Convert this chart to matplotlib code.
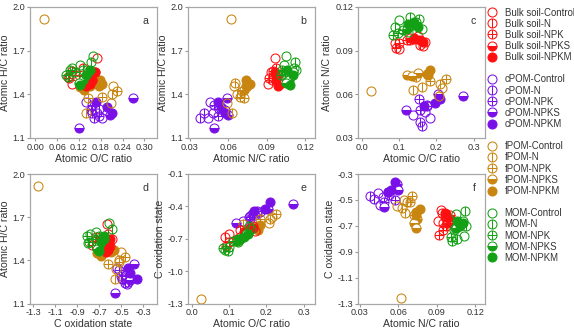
import matplotlib.pyplot as plt
from matplotlib.path import Path
from matplotlib.lines import Line2D
from matplotlib.ticker import FormatStrFormatter

plt.rcParams['font.family'] = ['Liberation Sans', 'DejaVu Sans']
plt.rcParams['axes.unicode_minus'] = False

FRACTIONS = ['Bulk soil', 'cPOM', 'fPOM', 'MOM']
TREATMENTS = ['Control', 'N', 'NPK', 'NPKS', 'NPKM']
COLORS = {'Bulk soil': '#FF1010', 'cPOM': '#7A10E8', 'fPOM': '#C8850F', 'MOM': '#14A014'}

# three replicates per treatment: atomic O/C, H/C, N/C and C oxidation state
bulk_oc = {'Control': [0.170, 0.165, 0.100], 'N': [0.090, 0.130, 0.155], 'NPK': [0.092, 0.100, 0.120],
           'NPKS': [0.140, 0.150, 0.130], 'NPKM': [0.140, 0.155, 0.165]}
bulk_hc = {'Control': [1.65, 1.55, 1.47], 'N': [1.52, 1.58, 1.50], 'NPK': [1.51, 1.56, 1.53],
           'NPKS': [1.50, 1.47, 1.53], 'NPKM': [1.46, 1.50, 1.55]}
bulk_nc = {'Control': [0.096, 0.093, 0.091], 'N': [0.095, 0.097, 0.094], 'NPK': [0.092, 0.095, 0.097],
           'NPKS': [0.098, 0.100, 0.099], 'NPKM': [0.0985, 0.097, 0.096]}
bulk_osc = {'Control': [-0.63, -0.58, -0.66], 'N': [-0.68, -0.62, -0.60], 'NPK': [-0.77, -0.73, -0.70],
            'NPKS': [-0.65, -0.62, -0.68], 'NPKM': [-0.64, -0.61, -0.60]}

cpom_oc = {'Control': [0.138, 0.170, 0.183], 'N': [0.161, 0.157, 0.174], 'NPK': [0.152, 0.157, 0.175],
           'NPKS': [0.270, 0.119, 0.205], 'NPKM': [0.197, 0.210, 0.167]}
cpom_hc = {'Control': [1.35, 1.27, 1.235], 'N': [1.24, 1.27, 1.30], 'NPK': [1.29, 1.33, 1.25],
           'NPKS': [1.377, 1.171, 1.26], 'NPKM': [1.315, 1.27, 1.35]}
cpom_nc = {'Control': [0.046, 0.048, 0.044], 'N': [0.038, 0.041, 0.053], 'NPK': [0.057, 0.049, 0.052],
           'NPKS': [0.059, 0.049, 0.060], 'NPKM': [0.054, 0.057, 0.052]}
cpom_osc = {'Control': [-0.54, -0.48, -0.45], 'N': [-0.47, -0.49, -0.46], 'NPK': [-0.50, -0.52, -0.44],
            'NPKS': [-0.38, -0.555, -0.42], 'NPKM': [-0.42, -0.36, -0.44]}

fpom_oc = {'Control': [0.024, 0.215, 0.207], 'N': [0.138, 0.210, 0.160], 'NPK': [0.225, 0.183, 0.144],
           'NPKS': [0.122, 0.135, 0.150], 'NPKM': [0.174, 0.183, 0.178]}
fpom_hc = {'Control': [1.92, 1.46, 1.34], 'N': [1.27, 1.40, 1.48], 'NPK': [1.42, 1.385, 1.375],
           'NPKS': [1.45, 1.43, 1.46], 'NPKM': [1.46, 1.47, 1.50]}
fpom_nc = {'Control': [0.062, 0.0643, 0.059], 'N': [0.063, 0.0668, 0.065], 'NPK': [0.0705, 0.069, 0.0718],
           'NPKS': [0.0735, 0.0725, 0.0745], 'NPKM': [0.074, 0.0765, 0.0735]}
fpom_osc = {'Control': [-1.26, -0.50, -0.55], 'N': [-0.56, -0.52, -0.60], 'NPK': [-0.47, -0.52, -0.62],
            'NPKS': [-0.72, -0.68, -0.65], 'NPKM': [-0.59, -0.57, -0.62]}

mom_oc = {'Control': [0.124, 0.160, 0.100], 'N': [0.152, 0.090, 0.130], 'NPK': [0.096, 0.110, 0.085],
          'NPKS': [0.130, 0.145, 0.120], 'NPKM': [0.151, 0.140, 0.124]}
mom_hc = {'Control': [1.60, 1.66, 1.58], 'N': [1.62, 1.52, 1.57], 'NPK': [1.567, 1.55, 1.53],
          'NPKS': [1.50, 1.55, 1.48], 'NPKM': [1.567, 1.53, 1.464]}
mom_nc = {'Control': [0.103, 0.105, 0.111], 'N': [0.112, 0.106, 0.113], 'NPK': [0.102, 0.104, 0.101],
          'NPKS': [0.107, 0.110, 0.105], 'NPKM': [0.106, 0.110, 0.108]}
mom_osc = {'Control': [-0.73, -0.61, -0.78], 'N': [-0.585, -0.80, -0.70], 'NPK': [-0.815, -0.72, -0.79],
           'NPKS': [-0.70, -0.66, -0.72], 'NPKM': [-0.66, -0.68, -0.70]}

DATA = {
    'Bulk soil': {'oc': bulk_oc, 'hc': bulk_hc, 'nc': bulk_nc, 'osc': bulk_osc},
    'cPOM': {'oc': cpom_oc, 'hc': cpom_hc, 'nc': cpom_nc, 'osc': cpom_osc},
    'fPOM': {'oc': fpom_oc, 'hc': fpom_hc, 'nc': fpom_nc, 'osc': fpom_osc},
    'MOM': {'oc': mom_oc, 'hc': mom_hc, 'nc': mom_nc, 'osc': mom_osc},
}

# circle with a vertical bar, circle with a cross
circle = Path.unit_circle()
vbar = Path([[0, -1], [0, 1]], [Path.MOVETO, Path.LINETO])
hbar = Path([[-1, 0], [1, 0]], [Path.MOVETO, Path.LINETO])
MARK_N = Path.make_compound_path(circle, vbar)
MARK_NPK = Path.make_compound_path(circle, vbar, hbar)


def marker_style(treatment, color):
    st = dict(linestyle='none', markersize=6.5, markeredgewidth=0.75, markeredgecolor=color)
    if treatment == 'Control':
        st.update(marker='o', markerfacecolor='none')
    elif treatment == 'N':
        st.update(marker=MARK_N, markerfacecolor='none')
    elif treatment == 'NPK':
        st.update(marker=MARK_NPK, markerfacecolor='none')
    elif treatment == 'NPKS':
        st.update(marker='o', fillstyle='bottom', markerfacecolor=color, markerfacecoloralt='white')
    else:
        st.update(marker='o', markerfacecolor=color)
    return st


PANELS = [
    # x, y, xlim, ylim, xticks, yticks, xfmt, yfmt, xlabel, ylabel, letter
    ('oc', 'hc', (-0.015, 0.335), (1.1, 2.0), [0, 0.06, 0.12, 0.18, 0.24, 0.30], [1.1, 1.4, 1.7, 2.0],
     '%.2f', '%.1f', 'Atomic O/C ratio', 'Atomic H/C ratio', 'a'),
    ('nc', 'hc', (0.0285, 0.1275), (1.1, 2.0), [0.03, 0.06, 0.09, 0.12], [1.1, 1.4, 1.7, 2.0],
     '%.2f', '%.1f', 'Atomic N/C ratio', 'Atomic H/C ratio', 'b'),
    ('oc', 'nc', (-0.01, 0.33), (0.03, 0.12), [0, 0.1, 0.2, 0.3], [0.03, 0.06, 0.09, 0.12],
     '%.1f', '%.2f', 'Atomic O/C ratio', 'Atomic N/C ratio', 'c'),
    ('osc', 'hc', (-1.33, -0.175), (1.1, 2.0), [-1.3, -1.1, -0.9, -0.7, -0.5, -0.3], [1.1, 1.4, 1.7, 2.0],
     '%.1f', '%.1f', 'C oxidation state', 'Atomic H/C ratio', 'd'),
    ('oc', 'osc', (-0.01, 0.33), (-1.3, -0.1), [0, 0.1, 0.2, 0.3], [-1.3, -1.0, -0.7, -0.4, -0.1],
     '%.1f', '%.1f', 'Atomic O/C ratio', 'C oxidation state', 'e'),
    ('nc', 'osc', (0.0285, 0.1275), (-1.3, -0.3), [0.03, 0.06, 0.09, 0.12], [-1.3, -1.1, -0.9, -0.7, -0.5, -0.3],
     '%.2f', '%.1f', 'Atomic N/C ratio', 'C oxidation state', 'f'),
]

W, H = 574, 328
fig = plt.figure(figsize=(W / 100, H / 100), dpi=100)
lefts = [30, 188, 358]
rows = [(7, 138), (174, 303.5)]
draw_order = ['cPOM', 'fPOM', 'Bulk soil', 'MOM']

for i, (xv, yv, xlim, ylim, xt, yt, xf, yf, xl, yl, letter) in enumerate(PANELS):
    r, c = divmod(i, 3)
    top, bot = rows[r]
    ax = fig.add_axes([lefts[c] / W, 1 - bot / H, 127 / W, (bot - top) / H])
    for frac in draw_order:
        for tr in TREATMENTS:
            ax.plot(DATA[frac][xv][tr], DATA[frac][yv][tr], **marker_style(tr, COLORS[frac]))
    ax.set_xlim(xlim)
    ax.set_ylim(ylim)
    ax.set_xticks(xt)
    ax.set_yticks(yt)
    ax.xaxis.set_major_formatter(FormatStrFormatter(xf))
    ax.yaxis.set_major_formatter(FormatStrFormatter(yf))
    ax.set_xlabel(xl, fontsize=7.6, color='#333333', labelpad=1.5)
    ax.set_ylabel(yl, fontsize=7.6, color='#333333', labelpad=2)
    ax.tick_params(labelsize=6.6, length=2, width=0.8, pad=1.5, colors='#999999', labelcolor='#333333')
    for sp in ax.spines.values():
        sp.set_color('#A8A8A8')
        sp.set_linewidth(0.9)
    ax.text(0.93, 0.93, letter, transform=ax.transAxes, fontsize=7.6, ha='right', va='top', color='#333333')

handles, labels = [], []
for g, frac in enumerate(FRACTIONS):
    if g > 0:
        handles.append(Line2D([], [], linestyle='none'))
        labels.append(' ')
    for tr in TREATMENTS:
        handles.append(Line2D([], [], **marker_style(tr, COLORS[frac])))
        labels.append(f'{frac}-{tr}')

fig.legend(handles, labels, loc='upper left', bbox_to_anchor=(486 / W, 1 - 7.5 / H), frameon=False,
           fontsize=6.9, labelspacing=0.12, handlelength=1.2, handletextpad=0.75,
           borderpad=0, borderaxespad=0, numpoints=1, labelcolor='#333333')

fig.savefig('out.png', dpi=100)
